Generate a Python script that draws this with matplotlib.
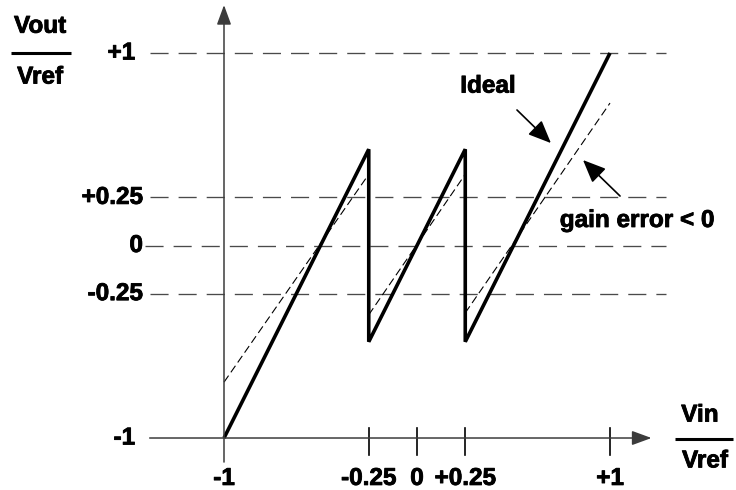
import matplotlib.pyplot as plt
import matplotlib as mpl
import matplotlib.patheffects as pe

mpl.rcParams["font.family"] = ["Liberation Sans", "DejaVu Sans"]
mpl.rcParams["font.weight"] = "bold"

# Transfer characteristic of a 1.5-bit stage, in units of Vref
ideal_x = [-1, -0.25, -0.25, 0.25, 0.25, 1]
ideal_y = [-1, 0.5, -0.5, 0.5, -0.5, 1]

# Same stage with gain error < 0 (one segment per sub-range)
gain_x = [[-1, -0.25], [-0.25, 0.25], [0.25, 1]]
gain_y = [[-0.71, 0.37], [-0.36, 0.37], [-0.35, 0.74]]

ref_levels = [1, 0.25, 0, -0.25]
y_labels = ["+1", "+0.25", "0", "-0.25", "-1"]
y_label_vals = [1, 0.25, 0, -0.25, -1]
x_ticks = [-0.25, 0, 0.25, 1]
x_labels = ["-1", "-0.25", "0", "+0.25", "+1"]
x_label_vals = [-1, -0.25, 0, 0.25, 1]

FS = 17.5
GRID = "#4a4a4a"
AXIS = "#3c3c3c"
bold = [pe.withStroke(linewidth=0.6, foreground="black")]

fig = plt.figure(figsize=(7.36, 4.90), dpi=100)
ax = fig.add_axes([0, 0, 1, 1])
ax.set_xlim(-2.1606, 1.6528)
ax.set_ylim(-1.2701, 1.2753)
ax.axis("off")


def label(x, y, s, **kw):
    kw.setdefault("ha", "center")
    ax.text(x, y, s, va="center", fontsize=FS, fontweight="bold",
            path_effects=bold, **kw)


# dashed reference levels
for lvl in ref_levels:
    x0 = -1.41 if lvl == 0 else -1.385
    ax.plot([x0, 1.29], [lvl, lvl], color=GRID, lw=0.95,
            linestyle=(0, (13.7, 7.6)), solid_capstyle="butt")

# axes with arrow heads
ax.annotate("", xy=(1.215, -1), xytext=(-1.385, -1),
            arrowprops=dict(arrowstyle="-|>,head_length=0.6,head_width=0.22",
                            mutation_scale=20, lw=1.1, color=AXIS,
                            shrinkA=0, shrinkB=0))
ax.annotate("", xy=(-1, 1.249), xytext=(-1, -1.125),
            arrowprops=dict(arrowstyle="-|>,head_length=0.6,head_width=0.22",
                            mutation_scale=20, lw=1.1, color=AXIS,
                            shrinkA=0, shrinkB=0))

# x ticks
for xt in x_ticks:
    ax.plot([xt, xt], [-0.948, -1.087], color="black", lw=1.2)

# gain-error characteristic
for xs, ys in zip(gain_x, gain_y):
    ax.plot(xs, ys, color="black", lw=0.8, linestyle=(0, (7.2, 3.6)))

# ideal characteristic
ax.plot(ideal_x, ideal_y, color="black", lw=2.6,
        solid_joinstyle="miter", solid_capstyle="butt")

# tick labels
for v, lab in zip(x_label_vals, x_labels):
    label(v, -1.21, lab)
for v, lab in zip(y_label_vals, y_labels):
    xr = -1.461 if lab in ("+1", "-1") else -1.42
    label(xr, v, lab, ha="right")

# axis titles as fractions
label(-1.953, 1.139, "Vout")
ax.plot([-2.104, -1.793], [1, 1], color="black", lw=2.2,
        solid_capstyle="butt")
label(-1.953, 0.875, "Vref")

label(1.466, -0.881, "Vin")
ax.plot([1.337, 1.637], [-1.005, -1.005], color="black", lw=2.2,
      solid_capstyle="butt")
label(1.492, -1.119, "Vref")

# annotations
label(0.368, 0.828, "Ideal")
ax.annotate("", xy=(0.694, 0.532), xytext=(0.518, 0.704),
            arrowprops=dict(arrowstyle="-|>,head_length=0.7,head_width=0.3",
                            mutation_scale=20, lw=1.2, color="black",
                            shrinkA=0, shrinkB=0))
label(1.14, 0.13, "gain error < 0")
ax.annotate("", xy=(0.860, 0.444), xytext=(1.052, 0.257),
            arrowprops=dict(arrowstyle="-|>,head_length=0.7,head_width=0.3",
                            mutation_scale=20, lw=1.2, color="black",
                            shrinkA=0, shrinkB=0))

fig.savefig("out.png", dpi=100)
